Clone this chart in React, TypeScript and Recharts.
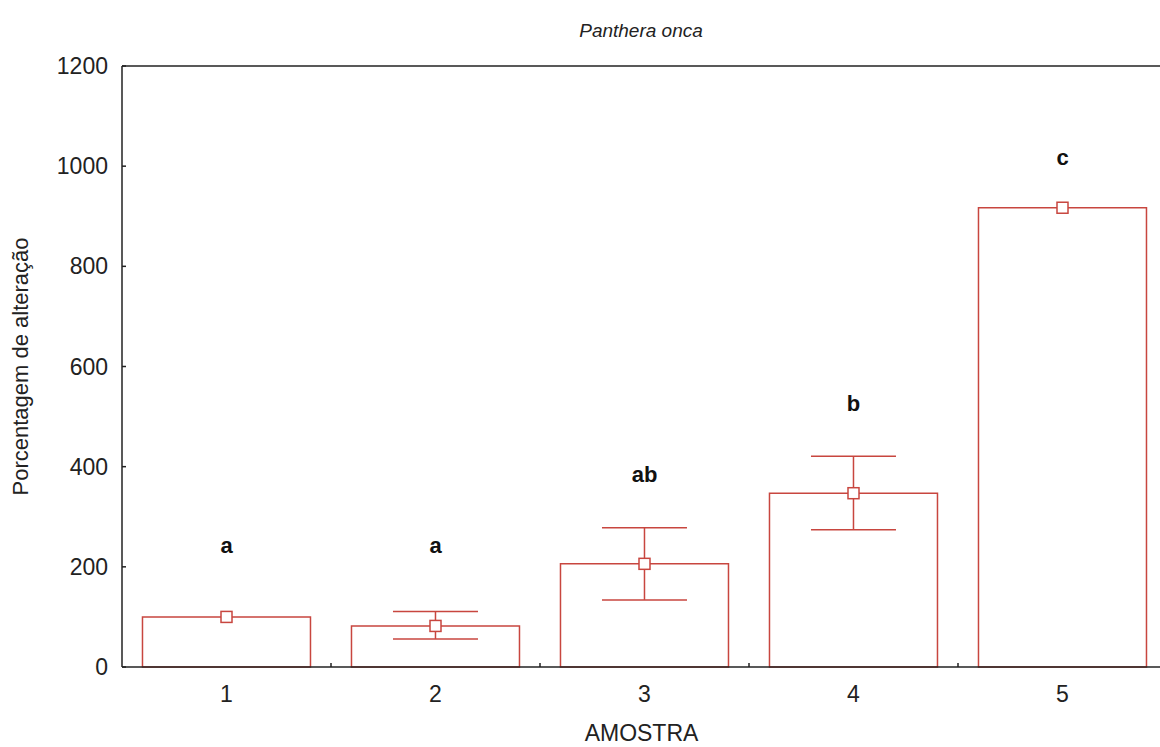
import { ComposedChart, Bar, Line, XAxis, YAxis, ErrorBar, LabelList, ReferenceLine } from "recharts";

const amostras = ["1", "2", "3", "4", "5"];
const medias = [100, 82, 206, 347, 917];
const erroInferior = [null, 26, 72, 73, null];
const erroSuperior = [null, 29, 72, 74, null];
const letras = ["a", "a", "ab", "b", "c"];
const alturaLetras = [244, 244, 384, 526, 1018];
const yTicks = [0, 200, 400, 600, 800, 1000, 1200];

const RED = "#c8463f";
const FONT = "'Liberation Sans', Arial, sans-serif";

const data = amostras.map((amostra, i) => ({
  amostra,
  media: medias[i],
  erro: erroInferior[i] == null ? null : [erroInferior[i], erroSuperior[i]],
  letra: letras[i],
  letraY: alturaLetras[i],
}));

const BottomTick = (props: any) => {
  const { x, y, payload } = props;
  const off = payload.offset || 0;
  return (
    <g>
      <text x={x} y={y + 35} textAnchor="middle" fontSize={23} fill="#222" fontFamily={FONT}>
        {payload.value}
      </text>
      <line x1={x + off} x2={x + off} y1={y} y2={y - 4} stroke="#222" strokeWidth={1.5} />
    </g>
  );
};

const LeftTick = (props: any) => {
  const { x, y, payload } = props;
  return (
    <g>
      <text x={x - 14} y={y + 8} textAnchor="end" fontSize={23} fill="#222" fontFamily={FONT}>
        {payload.value}
      </text>
      <line x1={x} x2={x + 4} y1={y} y2={y} stroke="#222" strokeWidth={1.5} />
    </g>
  );
};

const SquareDot = (props: any) => {
  const { cx, cy, index } = props;
  if (cx == null || cy == null) return <g key={index} />;
  return (
    <rect key={index} x={cx - 5.5} y={cy - 5.5} width={11} height={11} fill="#fff" stroke={RED} strokeWidth={1.5} />
  );
};

export default function App() {
  return (
    <div style={{ position: "absolute", top: 0, left: 0, width: 1160, height: 747, overflow: "hidden", background: "#fff" }}>
      <div
        style={{
          position: "absolute",
          top: 1,
          left: 122,
          width: 1038,
          textAlign: "center",
          fontFamily: FONT,
          fontStyle: "italic",
          fontSize: 19,
          lineHeight: "60px",
          color: "#222",
        }}
      >
        Panthera onca
      </div>
      <ComposedChart
        width={1170}
        height={747}
        data={data}
        margin={{ top: 66, right: 3, bottom: 0, left: 0 }}
        barCategoryGap="9.8%"
      >
        <XAxis
          dataKey="amostra"
          height={80}
          tickLine={false}
          tickSize={0}
          tickMargin={0}
          tick={<BottomTick />}
          axisLine={{ stroke: "#222", strokeWidth: 1.5 }}
          label={{
            content: (p: any) => {
              const vb = p.viewBox;
              return (
                <text x={vb.x + vb.width / 2 - 3} y={741} textAnchor="middle" fontSize={23} fill="#222" fontFamily={FONT}>
                  AMOSTRA
                </text>
              );
            },
          }}
        />
        <YAxis
          width={122}
          domain={[0, 1200]}
          ticks={yTicks}
          interval={0}
          tickLine={false}
          tickSize={0}
          tickMargin={0}
          tick={<LeftTick />}
          axisLine={{ stroke: "#222", strokeWidth: 1.5 }}
          label={{
            content: (p: any) => {
              const vb = p.viewBox;
              const cy = vb.y + vb.height / 2;
              return (
                <text x={20} y={cy} transform={`rotate(-90, 20, ${cy})`} textAnchor="middle" dominantBaseline="central" fontSize={22} fill="#222" fontFamily={FONT}>
                  Porcentagem de alteração
                </text>
              );
            },
          }}
        />
        <ReferenceLine y={1200} stroke="#222" strokeWidth={1.5} />
        <Bar dataKey="media" fill="#fff" stroke={RED} strokeWidth={1.5} isAnimationActive={false}>
          <ErrorBar dataKey="erro" width={42.5} stroke={RED} strokeWidth={1.5} direction="y" />
        </Bar>
        <Line dataKey="media" stroke="none" dot={<SquareDot />} activeDot={false} isAnimationActive={false} />
        <Line dataKey="letraY" stroke="none" dot={false} activeDot={false} isAnimationActive={false}>
          <LabelList dataKey="letra" position="center" fontSize={22} fontWeight="bold" fill="#111" fontFamily={FONT} />
        </Line>
      </ComposedChart>
    </div>
  );
}
